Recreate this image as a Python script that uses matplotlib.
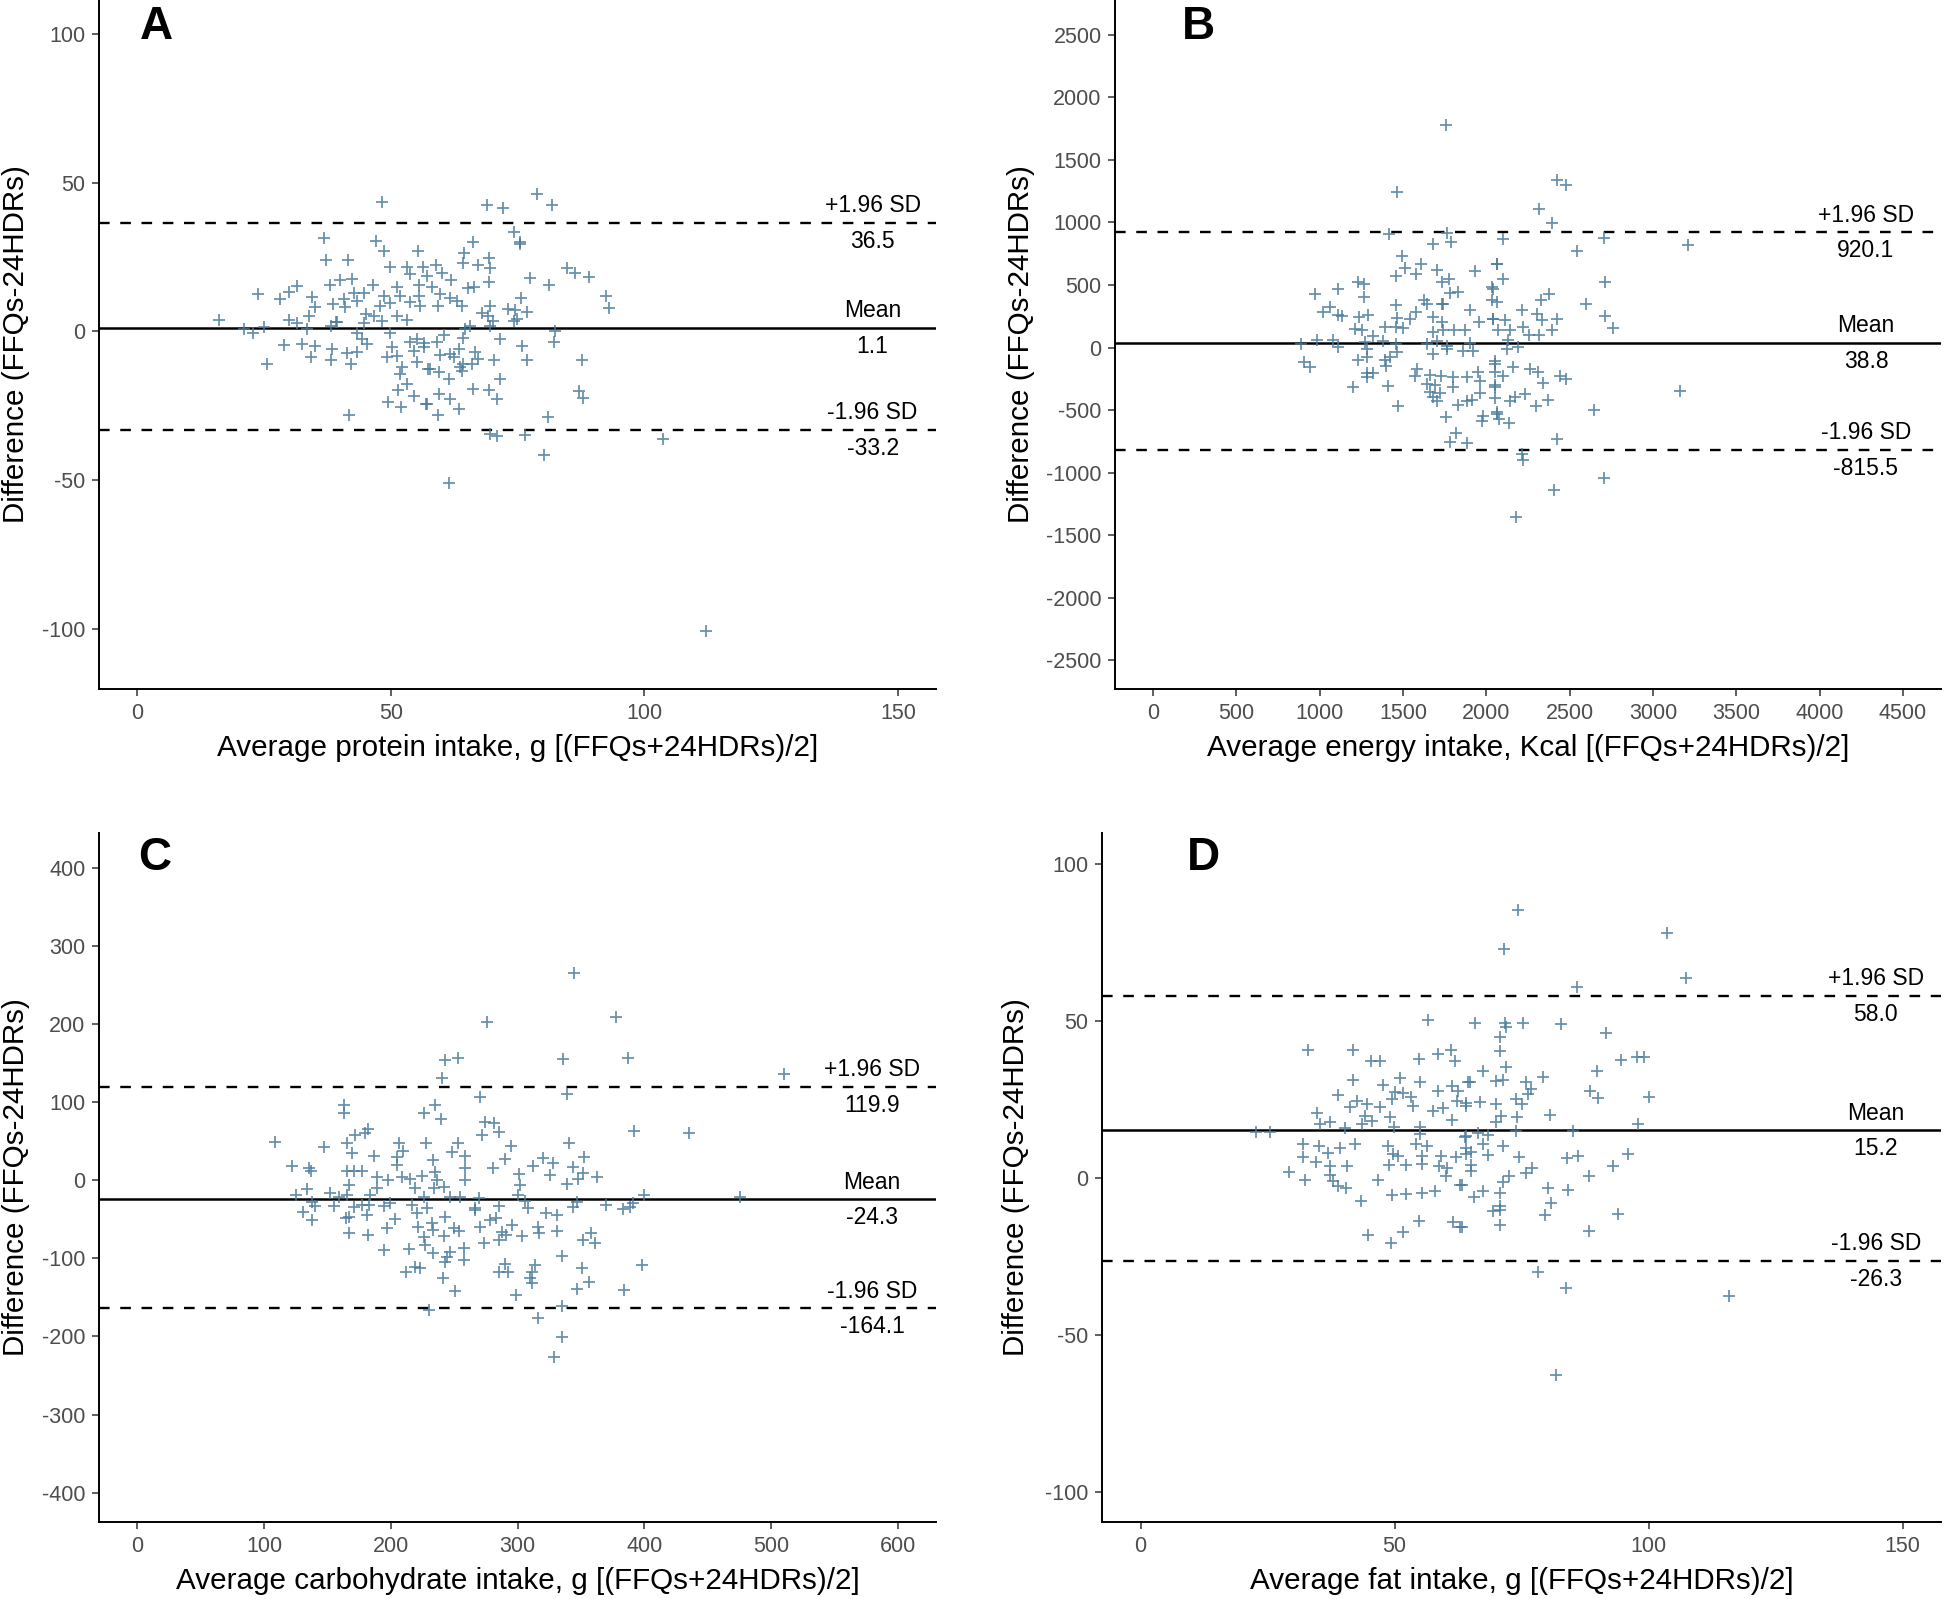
import matplotlib
matplotlib.use("Agg")
import matplotlib.pyplot as plt

plt.rcParams['font.family'] = ['Liberation Sans', 'DejaVu Sans']
plt.rcParams['axes.unicode_minus'] = False

# ---- panel A: protein ----
protein_avg = [48.2, 36.8, 47.1, 48.6, 55.3, 37.2, 41.6, 49.9, 53.2, 56.4,
               53.8, 42.3, 39.9, 37.9, 46.5, 55.6, 31.5, 29.9, 23.8, 28.2,
               34.5, 42.8, 44.6, 51.2, 48.6, 51.8, 55.5, 40.7, 43.3, 38.6,
               35.1, 47.9, 49.9, 53.7, 55.8, 41.0, 33.8, 45.0, 46.6, 51.2,
               16.1, 29.9, 31.5, 39.1, 48.2, 53.2, 21.0, 22.9, 25.0, 33.5,
               38.1, 39.4, 43.3, 44.6, 49.9, 44.3, 45.3, 28.9, 32.5, 35.1,
               53.8, 55.1, 50.2, 38.4, 41.4, 43.3, 54.5, 34.3, 38.2, 49.2,
               51.2, 42.2, 25.6, 52.2, 55.1, 51.8, 57.4, 53.2, 51.3, 54.5,
               49.4, 52.0, 56.9, 41.8,
               78.8, 68.9, 72.2, 81.7, 74.2, 75.5, 75.5, 66.2, 64.5, 64.3,
               67.1, 69.4, 69.6, 58.8, 60.1, 61.8, 57.2, 69.4, 77.4, 81.2,
               84.7, 86.3, 89.0, 65.3, 66.3, 58.1, 59.7, 61.7, 63.1, 64.0,
               59.2, 75.6, 92.4, 93.0, 67.9, 69.6, 69.2, 70.2, 73.0, 74.5,
               76.8, 74.2, 74.8, 65.6, 64.7, 69.6, 82.4, 60.4, 64.3, 59.0,
               56.6, 56.6, 71.5, 75.8, 82.2, 63.5, 59.6, 61.6, 62.4, 66.6,
               67.1, 66.0, 64.3, 70.4, 76.9, 87.6, 57.8, 59.4, 61.4, 64.0,
               63.7, 71.5, 66.2, 69.4, 71.0, 59.4, 61.6, 57.1, 63.5, 59.2,
               87.1, 87.8, 81.0, 69.6, 71.0, 76.5, 80.1, 103.7, 112.2, 61.5]
protein_diff = [43.6, 31.3, 30.5, 27.1, 27.1, 24.0, 24.0, 21.5, 21.5, 21.5,
                19.3, 17.6, 17.3, 15.6, 15.6, 15.6, 15.1, 13.3, 12.6, 10.9,
                11.4, 12.9, 12.9, 14.8, 12.0, 12.0, 11.8, 10.9, 10.3, 9.2,
                8.1, 8.6, 9.5, 9.8, 8.6, 8.1, 5.3, 5.8, 5.3, 5.3,
                3.9, 3.9, 2.8, 3.0, 3.6, 3.9, 0.8, -0.5, 1.4, 0.8,
                1.9, 3.0, -0.5, 2.8, -0.5, -2.6, -4.2, -4.5, -4.2, -4.8,
                -3.7, -2.6, -5.4, -6.1, -7.3, -7.0, -6.5, -8.7, -9.8, -8.7,
                -8.2, -11.0, -11.0, -12.1, -10.4, -14.3, -12.6, -17.7, -19.7, -21.6,
                -23.8, -25.5, -24.6, -28.3,
                46.2, 42.5, 41.3, 42.5, 33.5, 30.1, 29.4, 29.9, 26.3, 23.0,
                22.3, 24.5, 21.2, 22.3, 19.6, 17.4, 18.7, 16.5, 17.8, 15.4,
                21.2, 19.6, 18.2, 14.5, 14.8, 14.8, 12.6, 11.1, 10.3, 8.4,
                8.6, 11.1, 12.0, 7.8, 6.2, 8.4, 5.3, 3.6, 7.5, 7.3,
                6.6, 3.6, 4.2, 1.9, 0.8, 1.9, 0.2, -1.4, -2.3, -3.7,
                -3.9, -5.4, -2.6, -4.8, -3.7, -5.9, -7.9, -7.6, -8.7, -7.0,
                -9.3, -11.0, -11.0, -9.8, -9.5, -9.8, -12.6, -13.7, -16.0, -13.5,
                -12.1, -16.0, -19.4, -19.9, -22.9, -21.0, -22.7, -24.4, -26.1, -28.3,
                -20.2, -22.5, -28.9, -34.5, -35.2, -35.0, -41.7, -36.1, -100.8, -51.0]

# ---- panel B: energy ----
energy_avg = [1756, 1462, 1416, 1762, 1682, 1788, 1496, 1512, 1458, 1606,
              1578, 1702, 1732, 1778, 1782, 1832, 1932, 2062, 972, 1112,
              1232, 1268, 1268, 1022, 1062, 1112, 1132, 1238, 1292, 1458,
              1462, 1626, 1646, 1732, 1742, 1902, 2032, 2032, 2042, 1542,
              1578, 1682, 1732, 1958, 1392, 1458, 1502, 1212, 1252, 1318,
              1806, 1872, 1682, 1742, 886, 982, 1082, 1112, 1272, 1382,
              1458, 1642, 1702, 1762, 1902, 1282, 1462, 1682, 1762, 1862,
              1922, 906, 942, 1232, 1282, 1392, 1422, 1398, 1282, 1322,
              1282, 1582, 1572, 1662, 1726, 1802, 1882, 1952, 1962, 2052,
              2052, 1642, 1692, 1798, 1662, 1722, 1682, 1702, 1882, 1912,
              1832, 1962, 2052, 1412, 1202, 1472, 1758, 2062, 1982, 1972,
              1816, 1782, 1886,
              2422, 2478, 2318, 2392, 2102, 2706, 3212, 2546, 2066, 2102,
              2712, 2042, 2062, 2326, 2378, 2598, 2212, 2042, 2112, 2306,
              2332, 2422, 2712, 2758, 2072, 2142, 2222, 2392, 2318, 2258,
              2132, 2192, 2126, 2052, 2158, 2262, 2312, 2102, 2442, 2478,
              2338, 2052, 3162, 2232, 2172, 2052, 2142, 2372, 2298, 2646,
              2062, 2078, 2138, 2426, 2212, 2222, 2706, 2406, 2178]
energy_diff = [1777, 1244, 910, 916, 825, 844, 732, 638, 572, 670,
               590, 617, 524, 550, 436, 444, 612, 670, 430, 470,
               524, 510, 404, 284, 324, 257, 249, 244, 257, 337,
               238, 377, 345, 345, 350, 297, 484, 377, 230, 230,
               284, 244, 204, 204, 164, 164, 156, 150, 137, 89,
               142, 142, 124, 137, 30, 62, 62, 4, 44, 52,
               30, 30, 57, 17, 36, -10, -37, -50, -10, -23,
               -28, -116, -151, -98, -77, -98, -77, -143, -205, -205,
               -237, -170, -223, -215, -223, -237, -231, -197, -263, -103,
               -197, -290, -295, -317, -357, -365, -397, -423, -423, -418,
               -455, -365, -317, -303, -317, -463, -551, -530, -543, -583,
               -684, -757, -765,
               1337, 1297, 1110, 996, 870, 876, 817, 769, 670, 550,
               524, 470, 364, 382, 430, 350, 302, 230, 222, 270,
               217, 230, 249, 156, 137, 137, 164, 137, 97, 97,
               62, 4, -10, -130, -151, -170, -197, -223, -223, -250,
               -284, -295, -343, -370, -391, -405, -423, -418, -463, -498,
               -517, -570, -605, -730, -850, -898, -1042, -1138, -1357]

# ---- panel C: carbohydrate ----
carb_avg = [242.9, 252.6, 240.2, 162.8, 162.8, 235.0, 225.8, 239.4, 181.7, 172.0,
            179.9, 108.3, 147.6, 165.5, 169.4, 187.0, 206.1, 209.5, 204.8, 227.6,
            252.6, 248.1, 258.6, 233.1, 204.8, 122.2, 135.3, 136.6, 165.5, 170.7,
            177.3, 189.1, 197.5, 208.7, 215.3, 224.5, 235.0, 236.3, 258.6, 258.6,
            166.8, 189.1, 219.2, 233.7, 241.5, 133.5, 124.8, 152.3, 158.9, 165.5,
            183.8, 225.8, 246.8, 254.6, 137.9, 140.5, 155.0, 170.7, 177.3, 182.5,
            194.3, 199.0, 216.6, 228.4, 266.5, 130.8, 137.9, 166.8, 164.2, 181.2,
            220.5, 242.9, 203.5, 196.9, 221.1, 232.4, 233.1, 249.4, 254.1, 167.3,
            181.7, 225.8, 241.5, 227.1, 257.3, 194.8, 214.0, 233.1, 246.8, 244.2,
            257.3, 242.9, 219.2, 223.2, 212.2, 241.0, 250.7, 229.7,
            344.3, 275.6, 377.9, 335.4, 387.1, 270.4, 339.1, 274.3, 281.4, 271.7,
            285.6, 391.6, 434.8, 294.5, 340.7, 290.0, 280.3, 311.8, 320.2, 328.1,
            352.2, 325.5, 343.3, 351.2, 347.7, 339.1, 362.7, 301.3, 301.8, 300.5,
            305.8, 399.4, 269.1, 285.6, 308.4, 322.3, 331.2, 343.8, 346.4, 370.0,
            383.2, 391.0, 388.4, 266.4, 278.2, 283.0, 270.4, 295.3, 287.4, 290.8,
            316.3, 317.1, 331.2, 303.2, 273.5, 285.6, 351.7, 358.2, 360.9, 334.6,
            290.0, 285.6, 292.7, 313.6, 311.0, 309.7, 311.0, 350.4, 356.4, 347.0,
            398.1, 383.7, 298.7, 334.6, 316.3, 334.6, 328.6, 510.0, 475.0]
carb_diff = [154.1, 156.2, 130.6, 96.4, 85.8, 96.4, 86.6, 78.1, 65.3, 58.0,
             61.0, 48.6, 43.1, 47.3, 35.4, 31.1, 48.2, 37.5, 30.3, 47.3,
             47.3, 36.7, 31.1, 26.0, 19.6, 18.3, 15.3, 12.4, 12.4, 12.4,
             12.4, 4.7, 0.4, 4.7, 1.3, 5.5, 11.1, 0.4, 15.3, 0.4,
             -6.0, -10.3, -10.3, -10.3, -8.1, -11.6, -18.8, -15.8, -21.8, -18.8,
             -18.8, -21.8, -20.9, -20.9, -27.3, -32.9, -32.9, -33.7, -31.6, -31.6,
             -32.9, -28.6, -31.6, -35.9, -35.9, -40.1, -50.8, -46.5, -48.7, -44.4,
             -42.3, -46.5, -50.0, -61.5, -59.3, -55.1, -63.6, -61.5, -64.5, -67.0,
             -70.0, -72.1, -71.3, -82.8, -87.1, -89.2, -88.4, -93.5, -91.3, -97.7,
             -102.0, -104.1, -110.6, -112.7, -117.0, -125.5, -141.3, -166.0,
             265.0, 203.1, 208.7, 154.9, 156.2, 107.1, 110.5, 75.1, 73.8, 58.0,
             62.3, 63.6, 61.0, 44.4, 48.2, 26.9, 15.3, 18.3, 28.1, 22.6,
             29.4, 6.8, 17.5, 9.8, 1.3, -4.7, 4.7, 8.1, -6.0, -18.8,
             -26.1, -18.8, -23.1, -32.9, -35.9, -42.3, -44.4, -33.7, -27.3, -31.6,
             -37.1, -29.5, -33.7, -38.0, -50.8, -48.7, -59.3, -57.2, -65.7, -70.0,
             -59.3, -67.9, -64.5, -71.3, -80.7, -76.4, -76.4, -67.0, -79.8, -96.9,
             -107.1, -117.0, -117.0, -108.4, -117.0, -125.5, -131.9, -112.7, -129.8, -139.6,
             -108.4, -140.4, -146.8, -160.9, -176.7, -201.0, -226.6, 136.0, -21.0]

# ---- panel D: fat ----
fat_avg = [56.6, 33.0, 41.8, 45.3, 47.1, 54.8, 58.6, 61.0, 61.8, 51.0,
           41.8, 55.0, 47.7, 64.5, 38.9, 50.0, 51.7, 58.6, 61.2, 62.5,
           49.4, 53.3, 53.7, 42.5, 44.5, 41.2, 47.2, 57.6, 59.5, 62.2,
           64.1, 34.8, 44.1, 49.1, 61.2, 35.3, 37.3, 43.5, 45.5, 49.8,
           54.9, 22.7, 25.5, 40.2, 54.9, 64.1, 32.0, 35.2, 39.2, 42.2,
           36.9, 48.7, 54.3, 56.4, 32.0, 34.6, 49.7, 50.7, 55.3, 59.2,
           62.0, 64.1, 29.3, 32.3, 37.3, 40.7, 48.9, 52.3, 55.3, 58.8,
           60.3, 37.3, 46.8, 60.2, 37.9, 38.9, 40.5, 49.4, 52.3, 55.3,
           57.9, 62.8, 43.3, 54.8, 61.5, 62.8, 51.7, 44.8, 49.2,
           74.3, 71.5, 103.6, 107.4, 85.8, 65.8, 71.7, 72.0, 75.3, 82.8,
           91.6, 70.8, 70.8, 71.9, 67.4, 94.5, 97.6, 99.0, 89.9, 79.2,
           64.8, 70.0, 71.4, 75.9, 76.9, 76.3, 88.4, 90.0, 100.0, 66.8,
           64.1, 70.0, 73.8, 75.0, 80.5, 71.0, 74.0, 70.0, 97.9, 73.8,
           85.1, 66.4, 68.4, 63.8, 67.3, 71.4, 64.1, 65.1, 68.4, 74.5,
           83.9, 86.1, 95.9, 65.1, 65.1, 92.9, 75.8, 77.1, 72.5, 88.3,
           71.4, 63.2, 80.2, 84.1, 70.7, 67.4, 65.6, 80.7, 70.8, 69.4,
           70.7, 79.6, 94.0, 63.2, 70.8, 88.3, 78.2, 83.7, 81.7, 115.9]
fat_diff = [50.2, 40.9, 40.9, 37.4, 37.4, 37.9, 39.6, 40.9, 37.2, 31.9,
            31.2, 30.5, 29.7, 30.5, 26.5, 27.3, 27.0, 27.8, 29.4, 27.8,
            25.1, 25.7, 23.0, 24.6, 23.5, 22.7, 22.5, 21.4, 22.3, 24.6,
            23.0, 20.6, 19.8, 19.3, 18.4, 17.1, 18.0, 17.1, 18.2, 16.1,
            16.3, 14.8, 14.8, 15.9, 13.9, 13.4, 11.0, 10.2, 9.7, 10.7,
            8.1, 10.2, 10.7, 10.2, 6.7, 5.2, 7.5, 7.0, 7.0, 7.0,
            6.7, 7.5, 1.9, -0.5, 3.8, 3.8, 4.3, 4.3, 4.6, 3.8,
            3.1, 1.1, -0.5, 0.6, -1.0, -2.6, -3.1, -5.5, -5.0, -4.7,
            -4.2, -2.1, -7.4, -13.6, -14.0, -15.7, -17.2, -18.1, -20.7,
            85.4, 72.8, 78.0, 63.8, 60.7, 49.4, 49.4, 48.1, 49.4, 49.2,
            46.3, 44.9, 40.4, 35.3, 34.0, 37.6, 38.7, 38.5, 34.2, 32.3,
            30.5, 30.8, 31.2, 30.5, 28.3, 26.7, 27.6, 25.4, 25.9, 24.1,
            23.8, 23.5, 25.1, 23.5, 20.1, 19.8, 19.3, 17.7, 17.1, 15.0,
            15.0, 14.5, 13.7, 13.1, 10.7, 10.2, 9.7, 8.4, 7.3, 6.7,
            6.3, 7.0, 7.8, 4.3, 2.4, 3.8, 1.7, 3.1, 0.6, 0.8,
            -1.2, -2.1, -3.1, -3.7, -4.7, -4.2, -6.1, -7.9, -9.0, -10.6,
            -10.1, -11.7, -11.5, -15.7, -14.9, -16.8, -30.0, -35.1, -62.7, -37.7]

# limits of agreement: upper, mean, lower
protein_loa = [36.5, 1.1, -33.2]
energy_loa = [920.1, 38.8, -815.5]
carb_loa = [119.9, -24.3, -164.1]
fat_loa = [58.0, 15.2, -26.3]

loa_names = ["+1.96 SD", "Mean", "-1.96 SD"]
ylabel = "Difference (FFQs-24HDRs)"

panels = [
    dict(letter="A", x=protein_avg, y=protein_diff, loa=protein_loa,
         xlabel="Average protein intake, g [(FFQs+24HDRs)/2]",
         rect=[0.0511, 0.5691, 0.4304, 0.4309], xlim=(-7.5, 157.5), ylim=(-120.3, 111.4),
         xticks=[0, 50, 100, 150], yticks=[-100, -50, 0, 50, 100],
         text_x=145, letter_pos=(0.068, 0.961), ylab_x=-0.083),
    dict(letter="B", x=energy_avg, y=energy_diff, loa=energy_loa,
         xlabel="Average energy intake, Kcal [(FFQs+24HDRs)/2]",
         rect=[0.5738, 0.5691, 0.4244, 0.4309], xlim=(-225, 4725), ylim=(-2728, 2778),
         xticks=list(range(0, 5000, 500)), yticks=list(range(-2500, 3000, 500)),
         text_x=4278, letter_pos=(0.101, 0.961), ylab_x=-0.097),
    dict(letter="C", x=carb_avg, y=carb_diff, loa=carb_loa,
         xlabel="Average carbohydrate intake, g [(FFQs+24HDRs)/2]",
         rect=[0.0511, 0.0482, 0.4304, 0.4309], xlim=(-30, 630), ylim=(-437.5, 444.7),
         xticks=list(range(0, 700, 100)), yticks=list(range(-400, 500, 100)),
         text_x=579.6, letter_pos=(0.066, 0.964), ylab_x=-0.083),
    dict(letter="D", x=fat_avg, y=fat_diff, loa=fat_loa,
         xlabel="Average fat intake, g [(FFQs+24HDRs)/2]",
         rect=[0.5671, 0.0482, 0.4313, 0.4309], xlim=(-7.5, 157.5), ylim=(-109.5, 109.9),
         xticks=[0, 50, 100, 150], yticks=[-100, -50, 0, 50, 100],
         text_x=144.7, letter_pos=(0.12, 0.964), ylab_x=-0.086),
]

fig = plt.figure(figsize=(19.44, 15.99), dpi=100)

for p in panels:
    ax = fig.add_axes(p["rect"])
    ax.scatter(p["x"], p["y"], marker="+", s=80, color="#4a7b9b", linewidths=1.25, alpha=0.85, zorder=3)
    up, mean, low = p["loa"]
    ax.axhline(up, color="black", lw=1.7, ls=(0, (4.5, 4.5)), zorder=2)
    ax.axhline(mean, color="black", lw=1.8, zorder=2)
    ax.axhline(low, color="black", lw=1.7, ls=(0, (4.5, 4.5)), zorder=2)
    for name, val in zip(loa_names, p["loa"]):
        ax.annotate(name, (p["text_x"], val), xytext=(0, 4), textcoords="offset points",
                    ha="center", va="bottom", fontsize=16.5, color="black")
        ax.annotate("{:.1f}".format(val), (p["text_x"], val), xytext=(0, -5),
                    textcoords="offset points", ha="center", va="top", fontsize=16.5, color="black")
    ax.set_xlim(*p["xlim"])
    ax.set_ylim(*p["ylim"])
    ax.set_xticks(p["xticks"])
    ax.set_yticks(p["yticks"])
    for s in ["top", "right"]:
        ax.spines[s].set_visible(False)
    for s in ["left", "bottom"]:
        ax.spines[s].set_linewidth(1.4)
        ax.spines[s].set_color("black")
    ax.tick_params(axis="both", length=5, width=1.1, color="#333333",
                   labelsize=15.5, labelcolor="#4d4d4d", pad=5)
    ax.set_xlabel(p["xlabel"], fontsize=21.3, color="black")
    ax.set_ylabel(ylabel, fontsize=21.3, color="black")
    ax.xaxis.set_label_coords(0.5, -0.066)
    ax.yaxis.set_label_coords(p["ylab_x"], 0.5)
    ax.text(p["letter_pos"][0], p["letter_pos"][1], p["letter"], transform=ax.transAxes,
            ha="center", va="center", fontsize=33, fontweight="bold")

fig.savefig("out.png", dpi=100)
